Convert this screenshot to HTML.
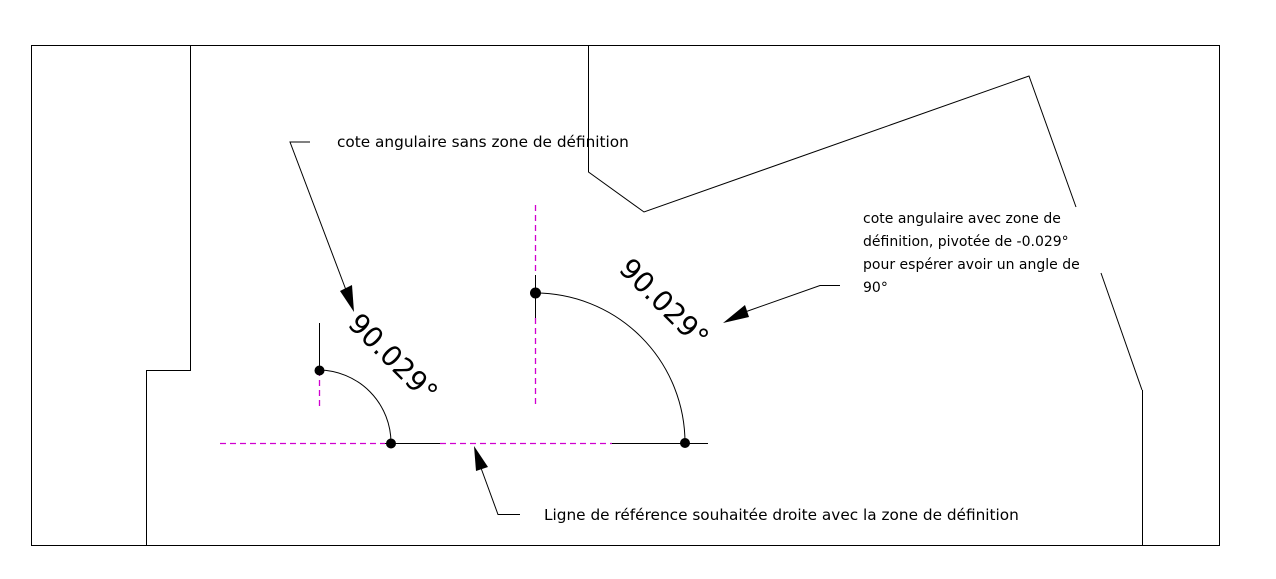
<!DOCTYPE html>
<html><head><meta charset="utf-8"><style>
html,body{margin:0;padding:0;background:#fff;}
svg{display:block;}
text{font-family:"DejaVu Sans","Liberation Sans",sans-serif;fill:#000;}
</style></head><body>
<svg width="1276" height="579" viewBox="0 0 1276 579" xmlns="http://www.w3.org/2000/svg">
<rect x="0" y="0" width="1276" height="579" fill="#fff"/>
<g fill="none" stroke="#000" stroke-width="1">
<rect x="31.5" y="45.5" width="1188" height="500"/>
<polyline points="190.5,45 190.5,370.5 146.5,370.5 146.5,545"/>
<polyline points="588.5,45 588.5,172 644,212 1029,76 1076,207"/>
<line x1="1101" y1="273" x2="1142" y2="390"/>
<line x1="1142.5" y1="390" x2="1142.5" y2="545"/>
<line x1="319.5" y1="323" x2="319.5" y2="370"/>
<path d="M319,370 A73,73 0 0 1 391,443"/>
<line x1="385" y1="443.5" x2="440" y2="443.5"/>
<line x1="612" y1="443.5" x2="708" y2="443.5"/>
<line x1="535.5" y1="275" x2="535.5" y2="318"/>
<path d="M535,293 A150,150 0 0 1 685,443"/>
<polyline points="310,142 290,142 346,290"/>
<polyline points="840,285.5 820,285.5 745,312"/>
<polyline points="520,514.5 498,514.5 481,468"/>
</g>
<g fill="none" stroke="#d000d0" stroke-width="1.3" stroke-dasharray="6,4">
<line x1="220" y1="443.5" x2="385" y2="443.5"/>
<line x1="440" y1="443.5" x2="612" y2="443.5"/>
<line x1="319.5" y1="370" x2="319.5" y2="410"/>
<line x1="535.5" y1="205" x2="535.5" y2="275"/>
<line x1="535.5" y1="318" x2="535.5" y2="408"/>
</g>
<g fill="#000">
<circle cx="319.5" cy="370.5" r="5"/>
<circle cx="391" cy="443.5" r="5"/>
<circle cx="535.5" cy="293" r="5.5"/>
<circle cx="685" cy="443" r="5"/>
<polygon points="354,312 340,291 352,285"/>
<polygon points="723,323 745,305 749,317"/>
<polygon points="474,446 488,467 476,471"/>
</g>
<text x="393" y="358" font-size="28" text-anchor="middle" dominant-baseline="central" transform="rotate(45 393 358)">90.029°</text>
<text x="664" y="303" font-size="28" text-anchor="middle" dominant-baseline="central" transform="rotate(45 664 303)">90.029°</text>
<g font-size="15.3">
<text x="337" y="147">cote angulaire sans zone de définition</text>
<text x="544" y="520">Ligne de référence souhaitée droite avec la zone de définition</text>
</g>
<g font-size="14">
<text x="863" y="223">cote angulaire avec zone de</text>
<text x="863" y="246">définition, pivotée de -0.029°</text>
<text x="863" y="269">pour espérer avoir un angle de</text>
<text x="863" y="292">90°</text>
</g>
</svg>
</body></html>
